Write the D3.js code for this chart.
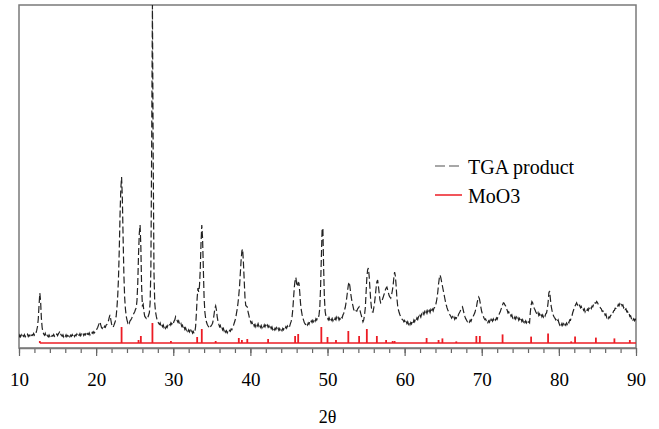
<!DOCTYPE html>
<html>
<head>
<meta charset="utf-8">
<script src="https://cdn.jsdelivr.net/npm/d3@7"></script>
<style>
  body { margin: 0; background: #fff; }
  svg text { font-family: "Liberation Serif", "DejaVu Serif", "Times New Roman", serif; }
</style>
</head>
<body>
<div id="graph1"></div>
<script>
// XRD pattern, 2theta from 10 to 90 in steps of 0.1 (one array per decade)
let start2theta = 10, step2theta = 0.1;
let counts10 = [105,128,112,131,109,125,116,134,113,127, 118,136,114,129,121,140,119,133,125,146,
    131,152,148,178,215,290,430,550,470,300, 205,162,140,128,147,118,135,122,112,131,
    115,128,110,126,119,135,117,129,121,138, 124,141,152,168,139,126,118,133,111,127,
    116,132,113,126,120,137,114,129,118,134, 121,138,115,130,123,140,119,135,126,143,
    122,138,129,145,124,139,131,150,128,144, 136,152,131,149,140,158,145,163,152,170];
let counts20 = [172,191,205,226,248,262,231,204,196,215, 199,218,207,229,236,251,272,305,332,285,
    241,218,207,226,248,271,318,405,520,700, 980,1330,1590,1710,1500,1100,730,505,390,318,
    282,251,266,249,272,281,296,312,331,347, 362,385,402,478,650,940,1150,1230,1010,610,
    425,438,362,318,307,296,312,305,328,352, 450,800,2000,3430,1900,760,450,362,318,284,
    262,248,236,251,222,238,214,231,205,222, 198,217,204,226,219,241,228,252,237,258];
let counts30 = [244,268,281,312,290,276,259,272,241,229, 244,216,228,198,215,186,201,178,192,168,
    183,160,176,154,171,149,165,146,160,215, 350,500,600,560,620,780,1050,1230,1100,800,
    500,360,298,262,238,222,211,196,208,221, 232,248,285,340,398,421,380,312,268,238,
    212,226,194,208,181,196,170,186,158,172, 151,169,156,175,166,189,182,205,221,248,
    272,301,348,392,452,530,620,750,880,970, 990,850,680,505,425,418,410,362,330,292];
let counts40 = [271,248,262,231,245,218,236,212,239,221, 243,219,237,208,226,201,222,205,231,212,
    236,214,229,207,222,198,217,194,211,186, 204,181,199,184,202,179,196,175,193,171,
    190,173,196,182,205,191,212,198,221,207, 228,219,246,268,310,385,500,610,680,705,
    640,615,655,650,560,450,382,336,301,278, 252,241,226,244,229,251,238,262,249,271,
    256,278,262,284,268,292,279,301,296,331, 400,600,900,1180,1200,800,500,362,318,302];
let counts50 = [298,281,305,284,302,279,296,271,292,276, 301,283,309,287,304,280,298,285,312,301,
    330,345,380,405,452,505,570,630,660,618, 552,498,455,421,384,371,358,372,368,391,
    402,412,381,348,322,291,262,281,330,400, 550,700,780,800,720,600,480,402,362,358,
    401,452,520,600,660,680,620,548,482,451, 462,481,502,528,551,580,600,610,582,551,
    522,508,498,528,570,620,700,760,720,620, 500,420,380,352,330,312,298,284,279,262];
let counts60 = [275,252,269,244,262,238,258,234,255,241, 268,251,279,262,291,276,301,285,312,298,
    326,309,338,322,351,334,362,341,368,346, 372,349,375,355,382,360,388,371,398,405,
    420,455,500,560,640,700,730,700,660,620, 580,541,500,462,430,401,380,362,341,328,
    315,298,312,291,308,287,305,296,321,312, 338,352,368,385,402,412,380,348,318,296,
    282,268,255,271,258,279,266,288,296,318, 335,352,381,402,452,490,510,492,451,402];
let counts70 = [362,338,319,298,285,291,268,279,255,272, 258,281,262,284,268,290,271,292,279,301,
    288,312,321,348,362,388,402,431,452,448, 431,420,392,378,351,362,335,342,318,331,
    302,318,296,312,289,308,285,302,278,296, 272,291,266,284,261,279,255,272,251,268,
    249,262,252,360,430,465,452,421,398,382, 362,348,331,352,325,342,318,338,312,331,
    309,328,318,342,351,392,452,550,570,490, 420,378,350,322,308,296,281,292,268,281];
let counts80 = [252,231,249,228,246,225,242,219,238,226, 251,238,265,252,281,276,305,322,355,378,
    402,421,438,452,431,442,418,428,402,415, 392,402,378,391,362,381,368,389,375,398,
    386,408,395,418,412,436,428,452,448,465, 455,438,425,418,398,392,368,372,345,351,
    328,338,305,318,296,312,302,325,331,352, 348,372,375,398,396,418,412,435,421,442,
    428,445,422,431,402,412,385,392,362,368, 338,345,316,322,295,305,281,292,272,289,
    278];

// MoO3 reference lines (2theta, relative intensity %)
let moo3Pos = [12.7,23.3,25.5,25.8,27.3,29.7,33.1,33.7,35.5,38.5,38.9,39.6,42.3,45.8,46.2,49.2,50.0,51.1,
    52.7,54.1,55.1,56.4,57.6,58.45,58.7,62.85,64.4,64.9,66.7,69.3,69.75,72.7,76.4,78.6,81.6,82.1,84.8,87.2,89.2];
let moo3Int = [10,80,15,35,100,10,30,70,10,25,15,20,20,35,45,80,30,15,
    60,35,70,35,15,10,10,25,15,23,8,35,35,43,32,48,8,32,27,23,15];
let moo3Offset = 50, moo3Full = 200;

let majorTicks = [10,20,30,40,50,60,70,80,90];
let minorTicks = d3.range(10, 91, 2);

let counts = [].concat(counts10, counts20, counts30, counts40, counts50, counts60, counts70, counts80);
let pattern = counts.map(function(c, i) { return {t: start2theta + i*step2theta, c: c}; });
let sticks = moo3Pos.map(function(p, i) { return {t: p, r: moo3Int[i]}; });

let serif = "'Liberation Serif', 'DejaVu Serif', serif";
let margin = {top: 5, right: 23, bottom: 81, left: 19};
let width = 659, height = 429;

let svg = d3.select("#graph1")
    .append("svg")
    .attr("width", width)
    .attr("height", height);

let x = d3.scaleLinear()
    .domain([10, 90])
    .range([margin.left, width - margin.right]);

let y = d3.scaleLinear()
    .domain([0, 3430])
    .range([height - margin.bottom, margin.top]);

svg.append("clipPath")
    .attr("id", "plotclip")
    .append("rect")
    .attr("x", margin.left)
    .attr("y", margin.top)
    .attr("width", x(90) - x(10))
    .attr("height", y(0) - y(3430));

// frame
svg.append("rect")
    .attr("x", x(10))
    .attr("y", y(3430))
    .attr("width", x(90) - x(10))
    .attr("height", y(0) - y(3430))
    .attr("fill", "none")
    .attr("stroke", "#7a7a7a")
    .attr("stroke-width", 1.5);

// MoO3 stick pattern
svg.append("line")
    .attr("x1", x(moo3Pos[0]))
    .attr("x2", x(90))
    .attr("y1", y(moo3Offset))
    .attr("y2", y(moo3Offset))
    .attr("stroke", "#ec1c24")
    .attr("stroke-width", 1.6);

svg.append("g").selectAll("line")
    .data(sticks)
    .enter()
    .append("line")
    .attr("x1", function(d) { return x(d.t); })
    .attr("x2", function(d) { return x(d.t); })
    .attr("y1", y(moo3Offset))
    .attr("y2", function(d) { return y(moo3Offset + d.r/100*moo3Full); })
    .attr("stroke", "#ec1c24")
    .attr("stroke-width", 1.8);

// TGA product pattern
let line = d3.line()
    .x(function(d) { return x(d.t); })
    .y(function(d) { return y(d.c); });

svg.append("path")
    .datum(pattern)
    .attr("clip-path", "url(#plotclip)")
    .attr("d", line)
    .attr("fill", "none")
    .attr("stroke", "#222")
    .attr("stroke-width", 1.2)
    .attr("stroke-dasharray", "7,3");

// x axis
let axisG = svg.append("g")
    .attr("transform", `translate(0,${y(0)})`);

axisG.call(d3.axisBottom(x).tickValues(minorTicks).tickSize(5).tickFormat(""))
    .call(function(g) { g.select(".domain").remove(); });

let majorG = svg.append("g")
    .attr("transform", `translate(0,${y(0)})`)
    .call(d3.axisBottom(x).tickValues(majorTicks).tickSize(8).tickPadding(17).tickSizeOuter(0).tickFormat(d3.format("d")));

svg.selectAll(".tick line").attr("stroke", "#666").attr("stroke-width", 1.2);
majorG.select(".domain").attr("stroke", "#7a7a7a").attr("stroke-width", 1.5);
majorG.attr("font-family", serif);
majorG.selectAll("text")
    .attr("fill", "#000")
    .style("font-size", "19px");

svg.append("text")
    .attr("x", x(50))
    .attr("y", 423)
    .style("text-anchor", "middle")
    .style("font-size", "18px")
    .style("font-family", serif)
    .text("2θ");

// legend
let legend = [
    {label: "TGA product", color: "#8a8a8a", dash: "10,4", ty: 174, ly: 166},
    {label: "MoO3", color: "#ec1c24", dash: null, ty: 203, ly: 195}
];
let leg = svg.append("g").selectAll("g").data(legend).enter().append("g");
leg.append("line")
    .attr("x1", 435).attr("x2", 462)
    .attr("y1", function(d) { return d.ly; })
    .attr("y2", function(d) { return d.ly; })
    .attr("stroke", function(d) { return d.color; })
    .attr("stroke-width", 1.5)
    .attr("stroke-dasharray", function(d) { return d.dash; });
leg.append("text")
    .attr("x", 468)
    .attr("y", function(d) { return d.ty; })
    .style("font-size", "20px")
    .style("font-family", serif)
    .text(function(d) { return d.label; });
</script>
</body>
</html>
